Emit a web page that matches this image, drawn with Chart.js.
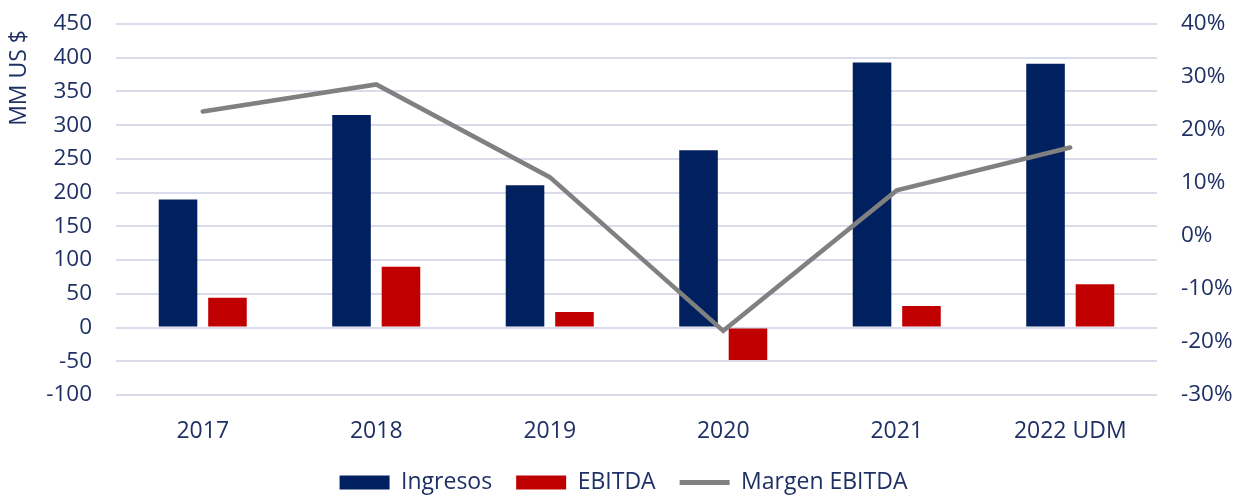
<!DOCTYPE html>
<html>
<head>
<meta charset="utf-8">
<script src="https://cdn.jsdelivr.net/npm/chart.js@4"></script>
<style>
  html, body { margin: 0; padding: 0; background: #fff; }
  #wrap { width: 1247px; height: 496px; position: relative; }
</style>
</head>
<body>
<div id="wrap"><canvas id="grafico"></canvas></div>
<script>
// Datos del gráfico (MM US $ y margen en %)
const categorias = ['2017', '2018', '2019', '2020', '2021', '2022 UDM'];
const ingresos = [190, 315, 211, 263, 393, 391];
const ebitda = [44, 90, 23, -48, 32, 64];
const margenEbitda = [23.5, 28.6, 11.1, -17.9, 8.6, 16.7];

const colorTexto = '#1F3064';
const familia = "'Open Sans', 'Noto Sans', sans-serif";
const fuente = { family: familia, size: 23 };
const fuenteEje = { family: familia, size: 22.5 };

// quita el relleno extra que Chart.js reserva arriba/abajo para las etiquetas
const ajustarEjeY = (ancho) => (s) => {
  s.width = ancho;
  s.paddingTop = 0;
  s.paddingBottom = 0;
};

const ctx = document.getElementById('grafico').getContext('2d');
new Chart(ctx, {
  data: {
    labels: categorias,
    datasets: [
      {
        type: 'bar', label: 'Ingresos', data: ingresos,
        backgroundColor: '#002060', yAxisID: 'y', order: 1,
        categoryPercentage: 0.57, barPercentage: 0.78
      },
      {
        type: 'bar', label: 'EBITDA', data: ebitda,
        backgroundColor: '#C00000', yAxisID: 'y', order: 1,
        categoryPercentage: 0.57, barPercentage: 0.78
      },
      {
        type: 'line', label: 'Margen EBITDA', data: margenEbitda,
        borderColor: '#808080', backgroundColor: '#808080', borderWidth: 4.5,
        pointRadius: 0, tension: 0, yAxisID: 'y1', order: 0,
        borderCapStyle: 'round'
      }
    ]
  },
  options: {
    responsive: true,
    maintainAspectRatio: false,
    animation: false,
    layout: { padding: { top: 24, left: 0, right: 0, bottom: -8 } },
    plugins: {
      tooltip: { enabled: false },
      legend: {
        position: 'bottom',
        labels: {
          color: colorTexto,
          font: fuente,
          usePointStyle: true,
          pointStyleWidth: 50,
          boxHeight: 14,
          padding: 24,
          sort: (a, b) => a.datasetIndex - b.datasetIndex,
          generateLabels: (chart) => chart.data.datasets.map((ds, i) => ({
            text: ds.label,
            fillStyle: ds.type === 'line' ? ds.borderColor : ds.backgroundColor,
            strokeStyle: ds.type === 'line' ? ds.borderColor : ds.backgroundColor,
            lineWidth: ds.type === 'line' ? 5 : 0,
            pointStyle: ds.type === 'line' ? 'line' : 'rect',
            fontColor: colorTexto,
            datasetIndex: i,
            hidden: false
          }))
        }
      }
    },
    scales: {
      x: {
        grid: { display: false, drawTicks: false },
        border: { display: false },
        ticks: { color: colorTexto, font: fuente, padding: 23 },
        afterFit: (s) => { s.height = 52; }
      },
      y: {
        position: 'left',
        min: -100, max: 450,
        ticks: { stepSize: 50, color: colorTexto, font: fuenteEje, padding: 24 },
        grid: { color: '#DADBEB', lineWidth: 2, drawTicks: false },
        border: { display: false },
        title: {
          display: true, text: 'MM US $ ', align: 'end',
          color: colorTexto, font: fuente, padding: { top: 6, bottom: 0 }
        },
        afterFit: ajustarEjeY(116)
      },
      y1: {
        position: 'right',
        min: -30, max: 40,
        ticks: {
          stepSize: 10, color: colorTexto, font: fuenteEje, padding: 24,
          callback: (v) => v + '%'
        },
        grid: { display: false, drawTicks: false },
        border: { display: false },
        afterFit: ajustarEjeY(90)
      }
    }
  }
});
</script>
</body>
</html>
